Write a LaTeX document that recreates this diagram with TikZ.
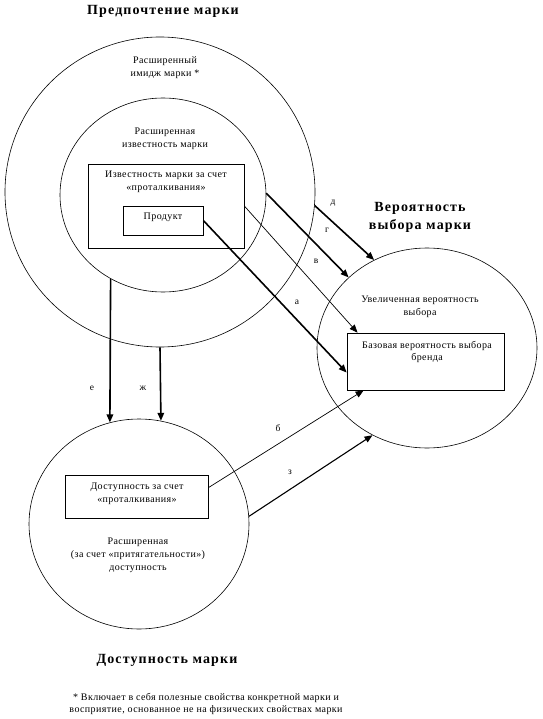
\documentclass[tikz,border=0pt]{standalone}
\usepackage{fontspec}
\setmainfont{Liberation Serif}[LetterSpace=4]
\newfontfamily\titlefont{Liberation Serif}[LetterSpace=8]
\usetikzlibrary{shapes.geometric,arrows.meta}
\begin{document}
\begin{tikzpicture}[x=1pt,y=-1pt,
  ring/.style={draw,ellipse,inner sep=0pt,line width=0.6pt},
  boxnode/.style={draw,rectangle,inner sep=0pt,line width=0.7pt},
  txt/.style={inner sep=0pt,align=center,font=\fontsize{10}{12.8}\selectfont},
  ttl/.style={inner sep=0pt,align=center,font=\titlefont\fontsize{14}{18}\selectfont\bfseries},
  lbl/.style={inner sep=0pt,font=\fontsize{9.5}{10}\selectfont},
  fat/.style={line width=1.6pt,-{Triangle[length=8pt,width=6.5pt]}},
  slim/.style={line width=0.7pt,-{Triangle[length=8pt,width=6.5pt]}},
  mid/.style={line width=1.1pt,-{Triangle[length=8pt,width=6.5pt]}},
]
\useasboundingbox (0,0) rectangle (542,719);
% circles
\node[ring,minimum width=310pt,minimum height=310pt] (outer) at (160,192) {};
\node[ring,minimum width=206pt,minimum height=194pt] (inner) at (163,195) {};
\node[ring,minimum width=220pt,minimum height=200pt] (right) at (427,348) {};
\node[ring,minimum width=220pt,minimum height=210pt] (bottom) at (139,524) {};
% boxes
\node[boxnode,minimum width=156pt,minimum height=84pt] (pushaw) at (166,206) {};
\node[boxnode,minimum width=80pt,minimum height=29pt] (product) at (163,220.5) {};
\node[boxnode,minimum width=157pt,minimum height=57pt] (base) at (425.5,361.5) {};
\node[boxnode,minimum width=143pt,minimum height=43pt] (pushacc) at (136.5,496.5) {};
% titles
\node[ttl] (t1) at (163,11) {Предпочтение марки};
\node[ttl] (t2) at (420,217) {Вероятность\\выбора марки};
\node[ttl] (t3) at (167,660) {Доступность марки};
% texts
\node[txt] (x1) at (165,68) {Расширенный\\имидж марки *};
\node[txt] (x2) at (165,139) {Расширенная\\известность марки};
\node[txt] (x3) at (166,182) {Известность марки за счет\\«проталкивания»};
\node[txt] (x4) at (163,217) {Продукт};
\node[txt] (x5) at (420,307) {Увеличенная вероятность\\выбора};
\node[txt] (x6) at (427,352) {Базовая вероятность выбора\\бренда};
\node[txt] (x7) at (137,494) {Доступность за счет\\«проталкивания»};
\node[txt] (x8) at (138,555) {Расширенная\\(за счет «притягательности»)\\доступность};
\node[txt] (fn) at (206,704) {* Включает в себя полезные свойства конкретной марки и\\восприятие, основанное не на физических свойствах марки};
% arrows
\draw[fat] (product.east) -- (base.188);
\draw[fat] (inner.1) -- (right.138.4);
\draw[fat] (outer.-5.5) -- (right.121.5);
\draw[slim] (pushaw.east) -- (base.157);
\draw[slim] (pushacc.7.6) -- (base.205);
\draw[mid] (bottom.4) -- (right.238.5);
\draw[fat] (inner.-122.5) -- (bottom.106);
\draw[fat] (outer.south) -- (bottom.78.5);
% labels
\node[lbl] (la) at (297,302) {а};
\node[lbl] (lb) at (278,428) {б};
\node[lbl] (lv) at (316,261) {в};
\node[lbl] (lg) at (327,230) {г};
\node[lbl] (ld) at (333,203) {д};
\node[lbl] (le) at (92,388) {е};
\node[lbl] (lzh) at (143,388) {ж};
\node[lbl] (lz) at (290,472) {з};
\end{tikzpicture}
\end{document}
